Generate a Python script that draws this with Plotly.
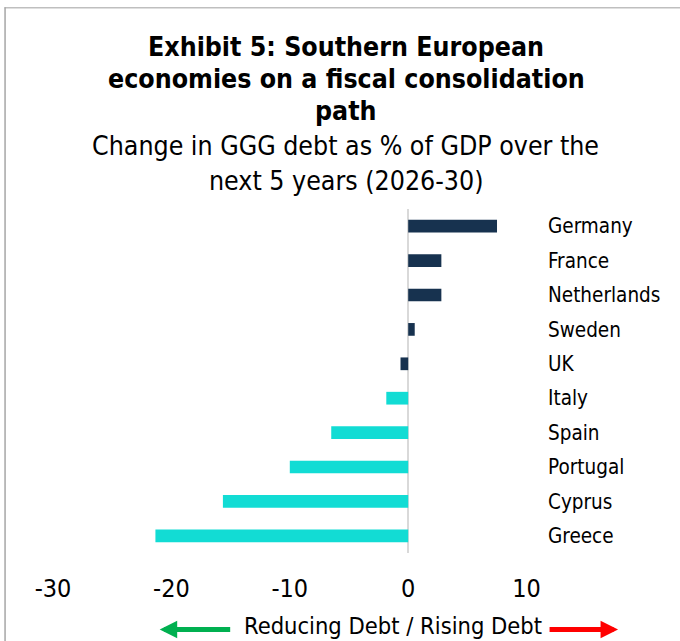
import plotly.graph_objects as go

countries = ["Germany", "France", "Netherlands", "Sweden", "UK",
             "Italy", "Spain", "Portugal", "Cyprus", "Greece"]
values = [7.5, 2.8, 2.8, 0.55, -0.65, -1.85, -6.5, -10.0, -15.65, -21.35]
bar_colors = ["#17324F"] * 5 + ["#12DCD4"] * 5
x_ticks = [-30, -20, -10, 0, 10]

title_lines = ["Exhibit 5: Southern European", "economies on a fiscal consolidation", "path"]
subtitle_lines = ["Change in GGG debt as % of GDP over the", "next 5 years (2026-30)"]
caption = "Reducing Debt / Rising Debt"

FONT = "'DejaVu Sans Condensed', 'DejaVu Sans', sans-serif"
W, H = 680, 641
L, R, T, B = 53.4, 138, 209, 87.5
pw, ph = W - L - R, H - T - B

def px(x):
    return (x - L) / pw

def py(y):
    return (H - B - y) / ph

fig = go.Figure(go.Bar(
    x=values, y=countries, orientation="h",
    marker=dict(color=bar_colors, line=dict(width=0)),
))

fig.update_layout(
    width=W, height=H,
    margin=dict(l=L, r=R, t=T, b=B, pad=0),
    paper_bgcolor="white", plot_bgcolor="white",
    font=dict(family=FONT, color="#000000"),
    showlegend=False,
    bargap=0.63,
    xaxis=dict(range=[-30, 11.3], tickvals=x_ticks, ticktext=[str(v) for v in x_ticks],
               showgrid=False, zeroline=True, zerolinecolor="#D9D9D9", zerolinewidth=2,
               showline=False, ticks="", tickfont=dict(size=25), ticklabelstandoff=18,
               fixedrange=True),
    yaxis=dict(categoryorder="array", categoryarray=countries[::-1], side="right",
               showgrid=False, showline=False, ticks="", tickfont=dict(size=20.5),
               ticklabelstandoff=5, automargin=False),
)

for txt, yc in zip(title_lines, [46, 78, 110]):
    fig.add_annotation(text="<b>" + txt + "</b>", xref="paper", yref="paper",
                       x=px(346.5), y=py(yc), xanchor="center", yanchor="middle",
                       showarrow=False, font=dict(size=26.5, family=FONT))
for txt, yc in zip(subtitle_lines, [145, 180]):
    fig.add_annotation(text=txt, xref="paper", yref="paper",
                       x=px(346), y=py(yc), xanchor="center", yanchor="middle",
                       showarrow=False, font=dict(size=26.5, family=FONT))

fig.add_annotation(text=caption, xref="paper", yref="paper",
                   x=px(393), y=py(627), xanchor="center", yanchor="middle",
                   showarrow=False, font=dict(size=23.5, family=FONT))
fig.add_annotation(text="", xref="paper", yref="paper", x=px(160), y=py(630),
                   ax=72, ay=0, showarrow=True, arrowhead=2, arrowsize=0.7, arrowwidth=5,
                   arrowcolor="#00B050")
fig.add_annotation(text="", xref="paper", yref="paper", x=px(618), y=py(630),
                   ax=-70, ay=0, showarrow=True, arrowhead=2, arrowsize=0.7, arrowwidth=5,
                   arrowcolor="#FF0000")

fig.add_shape(type="line", xref="paper", yref="paper", x0=px(5), x1=px(W + 5), y0=py(7.5), y1=py(7.5),
              line=dict(color="#BFBFBF", width=1.5))
fig.add_shape(type="line", xref="paper", yref="paper", x0=px(5.5), x1=px(5.5), y0=py(7), y1=py(H + 5),
              line=dict(color="#A6A6A6", width=1.5))

fig.write_html("out.html")
